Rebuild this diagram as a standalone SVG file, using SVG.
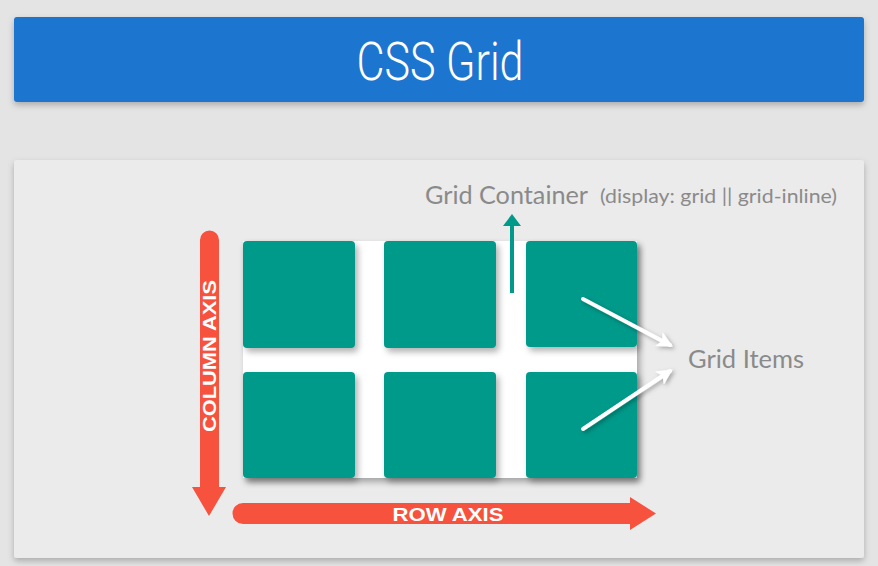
<svg xmlns="http://www.w3.org/2000/svg" width="878" height="566" viewBox="0 0 878 566">
<defs>
<style>
.cell{fill:#009a8a;filter:url(#sh)}
.gray{fill:#8a8a8a;font-family:Lato,"Open Sans","Liberation Sans",sans-serif}
.axis{fill:#f7523e}
.axt{fill:#ffffff;font-family:"Liberation Sans",Arial,sans-serif;font-weight:bold}
.wline{stroke:#ffffff;stroke-width:4;fill:none;stroke-linecap:round;filter:url(#sh2)}
</style>
<filter id="sh" x="-10%" y="-10%" width="130%" height="130%">
<feDropShadow dx="3" dy="4" stdDeviation="3" flood-color="#000" flood-opacity="0.3"/>
</filter>
<filter id="sh2" x="-20%" y="-20%" width="140%" height="140%">
<feDropShadow dx="2" dy="2" stdDeviation="2" flood-color="#000" flood-opacity="0.3"/>
</filter>
<filter id="sh3" x="-5%" y="-10%" width="110%" height="130%">
<feDropShadow dx="0" dy="3" stdDeviation="3" flood-color="#000" flood-opacity="0.25"/>
</filter>
<marker id="wh" viewBox="0 0 10 10" refX="8" refY="5" markerWidth="4" markerHeight="4" orient="auto" markerUnits="strokeWidth">
<path d="M0,0 L10,5 L0,10 L2.5,5 Z" fill="#ffffff"/>
</marker>
</defs>
<rect x="0" y="0" width="878" height="566" fill="#e4e4e4"/>
<g id="header">
<rect x="14" y="17" width="850" height="85" rx="3" fill="#1e74cf" filter="url(#sh3)"/>
<text x="440" y="80" text-anchor="middle" font-family="Roboto,'Liberation Sans',sans-serif" font-weight="300" font-size="53" fill="#ffffff" textLength="167" lengthAdjust="spacingAndGlyphs">CSS Grid</text>
</g>
<g id="panel">
<rect x="14" y="160" width="850" height="398" rx="3" fill="#ebebeb" filter="url(#sh3)"/>
</g>
<g id="grid-container">
<rect x="243" y="241" width="394" height="237" fill="#ffffff" filter="url(#sh)"/>
<text class="gray" x="425" y="204" font-size="25" textLength="163" lengthAdjust="spacingAndGlyphs">Grid Container</text>
<text class="gray" x="600" y="203" font-size="19" textLength="237" lengthAdjust="spacingAndGlyphs">(display: grid || grid-inline)</text>
</g>
<g id="cell-1-1"><rect class="cell" x="243" y="241" width="112" height="107" rx="4"/></g>
<g id="cell-1-2"><rect class="cell" x="384" y="241" width="112" height="107" rx="4"/></g>
<g id="cell-1-3"><rect class="cell" x="526" y="241" width="111" height="106" rx="4"/></g>
<g id="cell-2-1"><rect class="cell" x="243" y="372" width="112" height="106" rx="4"/></g>
<g id="cell-2-2"><rect class="cell" x="384" y="372" width="112" height="106" rx="4"/></g>
<g id="cell-2-3"><rect class="cell" x="526" y="372" width="111" height="106" rx="4"/></g>
<g id="grid-items">
<text class="gray" x="688" y="368" font-size="25" textLength="116" lengthAdjust="spacingAndGlyphs">Grid Items</text>
</g>
<g id="column-axis">
<path class="axis" d="M200,240 A9.5,9.5 0 0 1 219,240 L219,487 L226,487 L209,516 L192,487 L200,487 Z"/>
<text class="axt" transform="translate(216,356) rotate(-90)" x="0" y="0" text-anchor="middle" font-size="19" textLength="152" lengthAdjust="spacingAndGlyphs">COLUMN AXIS</text>
</g>
<g id="row-axis">
<path class="axis" d="M243,503 L630,503 L630,497 L656,513.5 L630,530 L630,524 L243,524 A10.5,10.5 0 0 1 243,503 Z"/>
<text class="axt" x="448" y="521" text-anchor="middle" font-size="19" textLength="111" lengthAdjust="spacingAndGlyphs">ROW AXIS</text>
</g>
<g id="connectors">
<line x1="512" y1="293" x2="512" y2="222" stroke="#009a8a" stroke-width="4"/>
<path d="M503,226 L512,214 L521,226 Z" fill="#009a8a"/>
<line class="wline" x1="583" y1="299" x2="670" y2="345" marker-end="url(#wh)"/>
<line class="wline" x1="583" y1="429" x2="670" y2="371" marker-end="url(#wh)"/>
</g>
</svg>
